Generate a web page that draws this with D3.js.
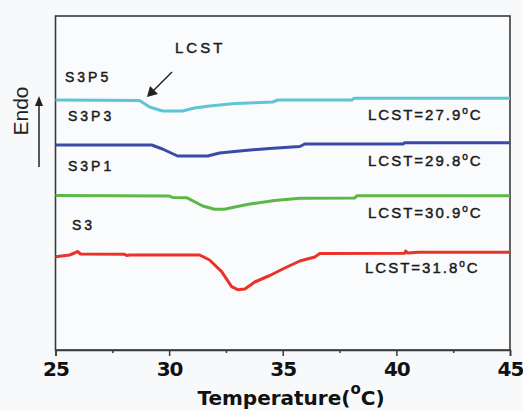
<!DOCTYPE html>
<html><head><meta charset="utf-8">
<script src="https://cdn.jsdelivr.net/npm/d3@7"></script>
<style>
html,body{margin:0;padding:0;background:#f8f9fb;}
svg{display:block;}
</style></head>
<body>
<svg id="chart" width="523" height="410"></svg>
<script>
// ---- data (temperature in °C, heat flow in arbitrary units, endo up) ----
const seriesNames = ["S3P5", "S3P3", "S3P1", "S3"];
const seriesColors = ["#5cc6d6", "#3a4aa8", "#5bb847", "#e8322a"];
const lcstLabels = ["27.9", "29.8", "30.9", "31.8"];

const s3p5T = [25.0, 28.70, 29.14, 29.71, 30.59, 31.12, 31.78, 32.89, 34.56, 34.78, 38.04, 38.13, 45.0];
const s3p5V = [250, 249.5, 243, 239, 239, 242, 244, 246.5, 248, 250, 250, 251.7, 251.7];

const s3p3T = [25.0, 29.23, 29.71, 30.37, 31.70, 32.22, 33.33, 34.43, 35.75, 35.97, 40.29, 40.37, 45.0];
const s3p3V = [205, 205, 201, 194, 194, 197, 199.5, 201.5, 203.5, 206, 206, 207.3, 207.3];

const s3p1T = [25.0, 30.02, 30.15, 30.77, 31.48, 32.0, 32.44, 32.89, 33.55, 34.65, 35.75, 38.17, 38.26, 45.0];
const s3p1V = [154.5, 154, 152.5, 152.3, 144, 140.7, 140.7, 143, 146, 149.5, 151.7, 152, 154.3, 154.3];

const s3T = [25.0, 25.62, 25.84, 25.97, 26.10, 28.04, 28.13, 28.26, 31.34, 31.78, 32.31, 32.75, 33.02, 33.33, 33.77, 34.43, 35.09, 35.75, 36.41, 36.63, 40.37, 40.41, 40.50, 40.95, 45.0];
const s3V = [93.3, 95, 97, 98.5, 96, 95.7, 94.5, 95, 95, 90, 78.3, 63.3, 60.3, 61, 68, 74.5, 82, 89, 93, 96.5, 96.7, 99, 97, 97.7, 97.7];

const xTicks = [25, 30, 35, 40, 45];
const xMinorTicks = [27.5, 32.5, 37.5, 42.5];

const seriesT = [s3p5T, s3p3T, s3p1T, s3T];
const seriesV = [s3p5V, s3p3V, s3p1V, s3V];

// ---- layout ----
const svg = d3.select("#chart");
const L = 55.5, R = 510, T = 16, B = 350;
const x = d3.scaleLinear().domain([25, 45]).range([L, R]);
const y = d3.scaleLinear().domain([0, 334]).range([B, T]);

// frame
svg.append("rect").attr("x", L).attr("y", T).attr("width", R - L).attr("height", B - T)
  .attr("fill", "#fafbfd").attr("stroke", "#3a3a3a").attr("stroke-width", 1.6);

// bottom axis
const ax = svg.append("g").attr("transform", `translate(0,${B})`)
  .call(d3.axisBottom(x).tickValues(xTicks).tickSize(6).tickPadding(6).tickFormat(d3.format("d")));
ax.select(".domain").attr("stroke", "#3a3a3a").attr("stroke-width", 1.6);
ax.selectAll(".tick line").attr("stroke", "#3a3a3a").attr("stroke-width", 1.5);
ax.selectAll(".tick text").attr("fill", "#111").attr("font-family", "DejaVu Sans")
  .attr("font-weight", "bold").attr("font-size", 20).attr("letter-spacing", "-1px");
const axm = svg.append("g").attr("transform", `translate(0,${B})`)
  .call(d3.axisBottom(x).tickValues(xMinorTicks).tickSize(3).tickFormat(""));
axm.select(".domain").remove();
axm.selectAll(".tick line").attr("stroke", "#3a3a3a").attr("stroke-width", 1.5);

// lines
const line = d3.line().x(d => x(d[0])).y(d => y(d[1]));
seriesNames.forEach((name, i) => {
  const pts = seriesT[i].map((t, j) => [t, seriesV[i][j]]);
  svg.append("path").datum(pts).attr("d", line).attr("fill", "none")
    .attr("stroke", seriesColors[i]).attr("stroke-width", 3).attr("stroke-linejoin", "round");
});

// series labels
const labelPos = [[65, 82], [68, 121], [68, 171], [72, 230]];
seriesNames.forEach((name, i) => {
  svg.append("text").attr("x", labelPos[i][0]).attr("y", labelPos[i][1]).text(name)
    .attr("font-family", "Liberation Sans, Arial").attr("font-size", 14)
    .attr("letter-spacing", "3px").attr("fill", "#1a1a1a")
    .attr("stroke", "#1a1a1a").attr("stroke-width", 0.45);
});

// LCST labels
const lcstPos = [[368, 120], [368, 166], [368, 218], [365, 273]];
lcstLabels.forEach((v, i) => {
  const t = svg.append("text").attr("x", lcstPos[i][0]).attr("y", lcstPos[i][1])
    .attr("font-family", "Liberation Sans, Arial").attr("font-size", 15)
    .attr("letter-spacing", "2px").attr("fill", "#1a1a1a")
    .attr("stroke", "#1a1a1a").attr("stroke-width", 0.45);
  t.append("tspan").text("LCST=" + v);
  t.append("tspan").attr("dy", -6).attr("font-size", 10).text("o");
  t.append("tspan").attr("dy", 6).text("C");
});

// LCST pointer
svg.append("text").attr("x", 175).attr("y", 53).text("LCST")
  .attr("font-family", "Liberation Sans, Arial").attr("font-size", 15)
  .attr("letter-spacing", "3px").attr("fill", "#1a1a1a")
  .attr("stroke", "#1a1a1a").attr("stroke-width", 0.45);
svg.append("line").attr("x1", 172).attr("y1", 72).attr("x2", 153).attr("y2", 91)
  .attr("stroke", "#222").attr("stroke-width", 1.5);
svg.append("path").attr("d", "M147,97 L150,86 L158,94 Z").attr("fill", "#222");

// Endo arrow
svg.append("line").attr("x1", 39).attr("y1", 167).attr("x2", 39).attr("y2", 104)
  .attr("stroke", "#222").attr("stroke-width", 1.5);
svg.append("path").attr("d", "M39,96 L35,106 L43,106 Z").attr("fill", "#222");
svg.append("text").attr("transform", "translate(28,111) rotate(-90)")
  .attr("text-anchor", "middle").text("Endo")
  .attr("font-family", "Liberation Sans, Arial").attr("font-size", 21).attr("fill", "#222");

// x axis title
const xt = svg.append("text").attr("x", 291).attr("y", 405).attr("text-anchor", "middle")
  .attr("font-family", "DejaVu Sans").attr("font-weight", "bold").attr("font-size", 20)
  .attr("letter-spacing", "0px").attr("fill", "#111");
xt.append("tspan").text("Temperature(");
xt.append("tspan").attr("dy", -11).attr("font-size", 15).text("o");
xt.append("tspan").attr("dy", 11).text("C)");
</script>
</body></html>
